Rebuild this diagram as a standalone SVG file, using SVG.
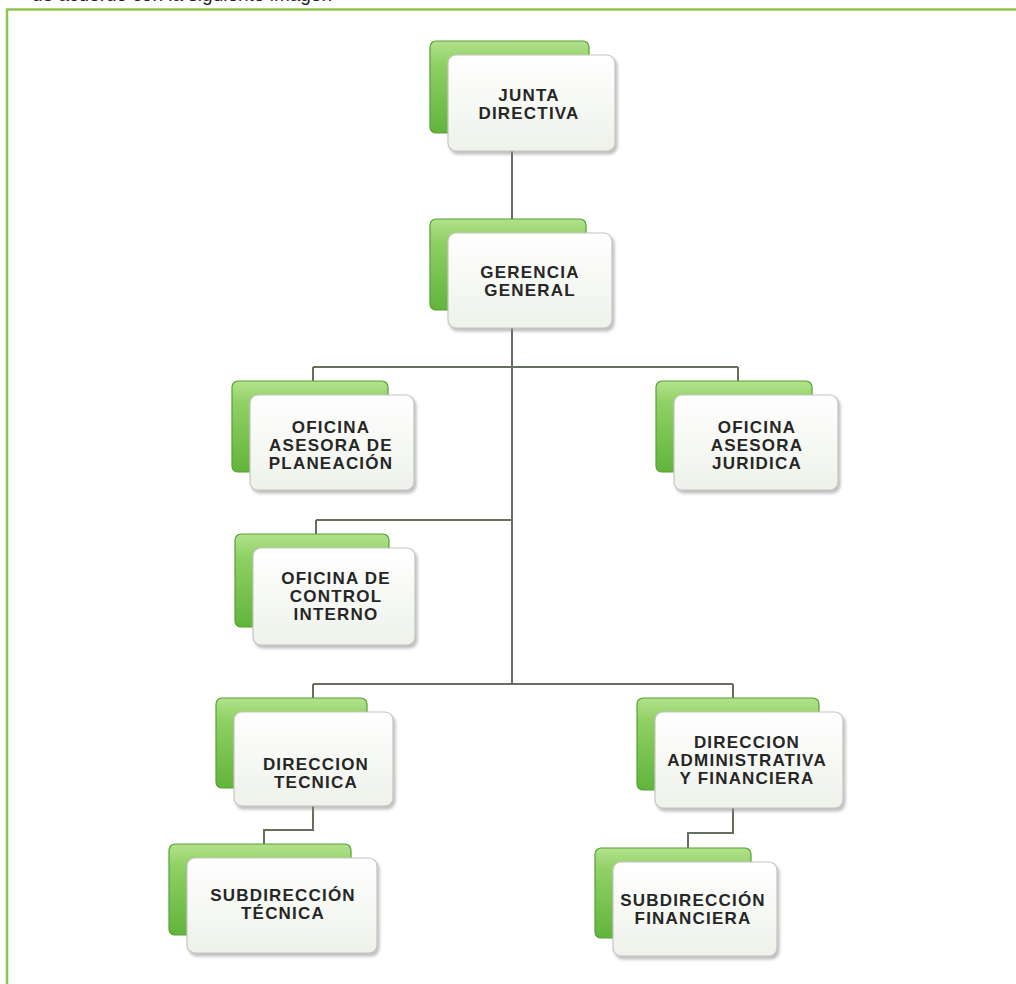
<svg xmlns="http://www.w3.org/2000/svg" width="1016" height="984" viewBox="0 0 1016 984">
  <defs>
    <linearGradient id="gb" x1="0" y1="0" x2="0" y2="1">
      <stop offset="0" stop-color="#b2e28c"/>
      <stop offset="0.25" stop-color="#8fd064"/>
      <stop offset="1" stop-color="#62b43c"/>
    </linearGradient>
    <linearGradient id="gf" x1="0" y1="0" x2="0" y2="1">
      <stop offset="0" stop-color="#ffffff"/>
      <stop offset="1" stop-color="#eef2ea"/>
    </linearGradient>
    <filter id="sh" x="-10%" y="-10%" width="125%" height="130%">
      <feDropShadow dx="2" dy="3" stdDeviation="1.5" flood-color="#8a8a8a" flood-opacity="0.55"/>
    </filter>
  </defs>
  <style>
    .frame { stroke: #8dc653; stroke-width: 2.5; fill: none; }
    .top { font-family: "Liberation Sans", Arial, sans-serif; font-size: 19px; fill: #222; }
    .c { stroke: #666e5c; stroke-width: 2; fill: none; }
    .back { fill: url(#gb); stroke: #56a032; stroke-width: 1.2; }
    .front { fill: url(#gf); stroke: #c4c6c0; stroke-width: 1.2; filter: url(#sh); }
    .t { font-family: "Liberation Sans", Arial, sans-serif; font-weight: bold; font-size: 17px; letter-spacing: 1.2px; fill: #262626; text-anchor: middle; }
  </style>
  <rect width="1016" height="984" fill="#ffffff"/>
  <text class="top" x="332" y="1" text-anchor="end">de acuerdo con la siguiente imagen</text>
  <path class="frame" d="M7,984 V9.5 H1016"/>

  <g id="connectors">
    <path class="c" d="M512,151 V220"/>
    <path class="c" d="M512,328 V684"/>
    <path class="c" d="M313,367 H738 M313,367 V382 M738,367 V382"/>
    <path class="c" d="M316,520 H512 M316,520 V535"/>
    <path class="c" d="M313,684 H733 M313,684 V699 M733,684 V699"/>
    <path class="c" d="M313,806 V830 H264 V845"/>
    <path class="c" d="M733,808 V833 H688 V849"/>
  </g>

  <g id="junta-directiva">
    <rect class="back" x="430" y="41" width="159" height="92" rx="6"/>
    <rect class="front" x="448" y="55" width="167" height="96" rx="8"/>
    <text class="t" x="529" y="101">JUNTA</text>
    <text class="t" x="529" y="119">DIRECTIVA</text>
  </g>

  <g id="gerencia-general">
    <rect class="back" x="430" y="219" width="156" height="91" rx="6"/>
    <rect class="front" x="448" y="233" width="164" height="95" rx="8"/>
    <text class="t" x="530" y="278">GERENCIA</text>
    <text class="t" x="530" y="296">GENERAL</text>
  </g>

  <g id="oficina-planeacion">
    <rect class="back" x="232" y="381" width="156" height="91" rx="6"/>
    <rect class="front" x="250" y="395" width="164" height="95" rx="8"/>
    <text class="t" x="331" y="433">OFICINA</text>
    <text class="t" x="331" y="451">ASESORA DE</text>
    <text class="t" x="331" y="469">PLANEACIÓN</text>
  </g>

  <g id="oficina-juridica">
    <rect class="back" x="656" y="381" width="156" height="91" rx="6"/>
    <rect class="front" x="674" y="395" width="164" height="95" rx="8"/>
    <text class="t" x="757" y="433">OFICINA</text>
    <text class="t" x="757" y="451">ASESORA</text>
    <text class="t" x="757" y="469">JURIDICA</text>
  </g>

  <g id="oficina-control">
    <rect class="back" x="235" y="534" width="154" height="93" rx="6"/>
    <rect class="front" x="253" y="548" width="162" height="97" rx="8"/>
    <text class="t" x="336" y="584">OFICINA DE</text>
    <text class="t" x="336" y="602">CONTROL</text>
    <text class="t" x="336" y="620">INTERNO</text>
  </g>

  <g id="direccion-tecnica">
    <rect class="back" x="216" y="698" width="151" height="90" rx="6"/>
    <rect class="front" x="234" y="712" width="159" height="94" rx="8"/>
    <text class="t" x="316" y="770">DIRECCION</text>
    <text class="t" x="316" y="788">TECNICA</text>
  </g>

  <g id="direccion-administrativa">
    <rect class="back" x="637" y="698" width="182" height="92" rx="6"/>
    <rect class="front" x="655" y="712" width="188" height="96" rx="8"/>
    <text class="t" x="747" y="748">DIRECCION</text>
    <text class="t" x="747" y="766">ADMINISTRATIVA</text>
    <text class="t" x="747" y="784">Y FINANCIERA</text>
  </g>

  <g id="subdireccion-tecnica">
    <rect class="back" x="169" y="844" width="182" height="91" rx="6"/>
    <rect class="front" x="187" y="858" width="190" height="95" rx="8"/>
    <text class="t" x="283" y="901">SUBDIRECCIÓN</text>
    <text class="t" x="283" y="919">TÉCNICA</text>
  </g>

  <g id="subdireccion-financiera">
    <rect class="back" x="595" y="848" width="156" height="90" rx="6"/>
    <rect class="front" x="613" y="862" width="164" height="94" rx="8"/>
    <text class="t" x="693" y="906">SUBDIRECCIÓN</text>
    <text class="t" x="693" y="924">FINANCIERA</text>
  </g>
</svg>
